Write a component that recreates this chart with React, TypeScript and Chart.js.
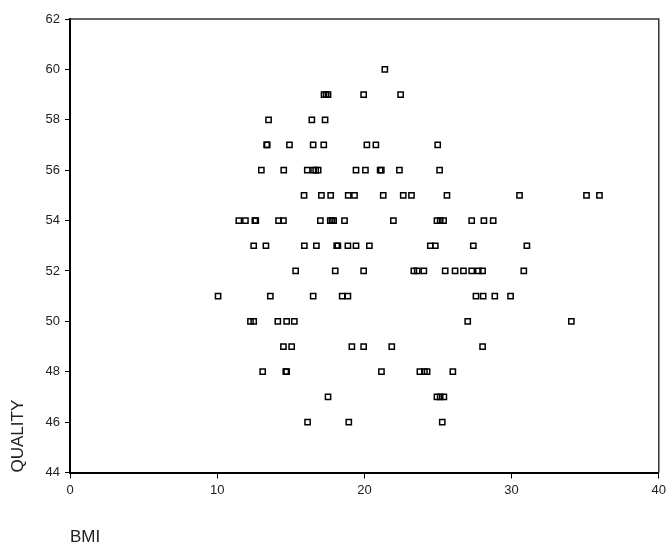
import React, { useEffect, useRef } from "react";
import { Chart, registerables } from "chart.js";

Chart.register(...registerables);

// Axis ranges / ticks
const xMin = 0;
const xMax = 40;
const xStep = 10;
const yMin = 44;
const yMax = 62;
const yStep = 2;

const xTitle = "BMI";
const yTitle = "QUALITY";

// BMI values (x), grouped by quality row
const bmi = [
  // 60
  21.39,
  // 59
  17.26, 17.4, 17.53, 19.95, 22.46,
  // 58
  13.49, 16.43, 17.33,
  // 57
  13.36, 13.4, 14.91, 16.52, 17.24, 20.17, 20.78, 24.98,
  // 56
  13.0, 14.52, 16.12, 16.55, 16.69, 16.86, 19.43, 20.07, 21.07, 21.15, 22.38, 25.11,
  // 55
  15.9, 17.08, 17.71, 18.9, 19.33, 21.28, 22.64, 23.2, 25.61, 30.54, 35.09, 35.97,
  // 54
  11.47, 11.92, 12.56, 12.62, 14.17, 14.5, 17.01, 17.68, 17.8, 17.91, 18.65, 21.97, 24.93, 25.15, 25.38, 27.29, 28.12, 28.75,
  // 53
  12.48, 13.31, 15.92, 16.74, 18.12, 18.2, 18.88, 19.43, 20.34, 24.48, 24.82, 27.4, 31.04,
  // 52
  15.33, 18.02, 19.95, 23.36, 23.59, 24.04, 25.49, 26.16, 26.73, 27.29, 27.74, 28.03, 30.83,
  // 51
  10.06, 13.61, 16.52, 18.49, 18.88, 27.58, 28.07, 28.86, 29.93,
  // 50
  12.26, 12.48, 14.12, 14.72, 15.24, 27.02, 34.06,
  // 49
  14.5, 15.06, 19.15, 19.95, 21.86, 28.03,
  // 48
  13.09, 14.66, 14.72, 21.16, 23.77, 24.08, 24.26, 26.01,
  // 47
  17.53, 24.93, 25.15, 25.4,
  // 46
  16.14, 18.94, 25.29,
];

// QUALITY values (y), same order as bmi
const quality = [
  60,
  59, 59, 59, 59, 59,
  58, 58, 58,
  57, 57, 57, 57, 57, 57, 57, 57,
  56, 56, 56, 56, 56, 56, 56, 56, 56, 56, 56, 56,
  55, 55, 55, 55, 55, 55, 55, 55, 55, 55, 55, 55,
  54, 54, 54, 54, 54, 54, 54, 54, 54, 54, 54, 54, 54, 54, 54, 54, 54, 54,
  53, 53, 53, 53, 53, 53, 53, 53, 53, 53, 53, 53, 53,
  52, 52, 52, 52, 52, 52, 52, 52, 52, 52, 52, 52, 52,
  51, 51, 51, 51, 51, 51, 51, 51, 51,
  50, 50, 50, 50, 50, 50, 50,
  49, 49, 49, 49, 49, 49,
  48, 48, 48, 48, 48, 48, 48, 48,
  47, 47, 47, 47,
  46, 46, 46,
];

const FONT = "'Liberation Sans', Arial, sans-serif";

const framePlugin = {
  id: "frame",
  afterDraw(chart: any) {
    const { ctx, chartArea } = chart;
    const { left, top, right, bottom } = chartArea;
    ctx.save();
    ctx.strokeStyle = "#333";
    ctx.lineWidth = 1.5;
    ctx.beginPath();
    ctx.moveTo(left, top);
    ctx.lineTo(right, top);
    ctx.lineTo(right, bottom);
    ctx.stroke();
    ctx.restore();
  },
};

export default function App() {
  const canvasRef = useRef<HTMLCanvasElement | null>(null);

  useEffect(() => {
    if (!canvasRef.current) return;
    const points = bmi.map((b, i) => ({ x: b, y: quality[i] }));
    const chart = new Chart(canvasRef.current, {
      type: "scatter",
      data: {
        datasets: [
          {
            data: points,
            pointStyle: "rect",
            pointRadius: 3.7,
            pointHoverRadius: 3.7,
            pointBorderWidth: 1.5,
            pointBorderColor: "#000",
            pointBackgroundColor: "rgba(0,0,0,0)",
            showLine: false,
          },
        ],
      },
      options: {
        animation: false,
        responsive: false,
        devicePixelRatio: 1,
        layout: { padding: { left: 0, right: 7, top: 19, bottom: 0 } },
        plugins: {
          legend: { display: false },
          tooltip: { enabled: false },
        },
        scales: {
          x: {
            type: "linear",
            min: xMin,
            max: xMax,
            ticks: {
              stepSize: xStep,
              padding: 4,
              maxRotation: 0,
              color: "#222",
              font: { family: FONT, size: 13 },
            },
            grid: {
              drawOnChartArea: false,
              drawTicks: true,
              tickLength: 6,
              color: "#000",
              lineWidth: 1,
            },
            border: { display: true, color: "#000", width: 2 },
            title: {
              display: true,
              text: xTitle,
              align: "start",
              color: "#222",
              font: { family: FONT, size: 17 },
              padding: { top: 0, bottom: 1 },
            },
            afterFit: (s: any) => {
              s.height = 76.5;
            },
          },
          y: {
            type: "linear",
            min: yMin,
            max: yMax,
            ticks: {
              stepSize: yStep,
              padding: 5,
              color: "#222",
              font: { family: FONT, size: 13 },
            },
            grid: {
              drawOnChartArea: false,
              drawTicks: true,
              tickLength: 5,
              color: "#000",
              lineWidth: 1,
            },
            border: { display: true, color: "#000", width: 2 },
            title: {
              display: true,
              text: yTitle,
              align: "start",
              color: "#222",
              font: { family: FONT, size: 17 },
              padding: { top: 8, bottom: 0 },
            },
            afterFit: (s: any) => {
              s.width = 70;
            },
          },
        },
      },
      plugins: [framePlugin],
    });
    return () => chart.destroy();
  }, []);

  return (
    <div style={{ position: "absolute", left: 0, top: 0, width: 670, height: 549, background: "#fff" }}>
      <canvas ref={canvasRef} width={670} height={549} style={{ display: "block" }} />
    </div>
  );
}
